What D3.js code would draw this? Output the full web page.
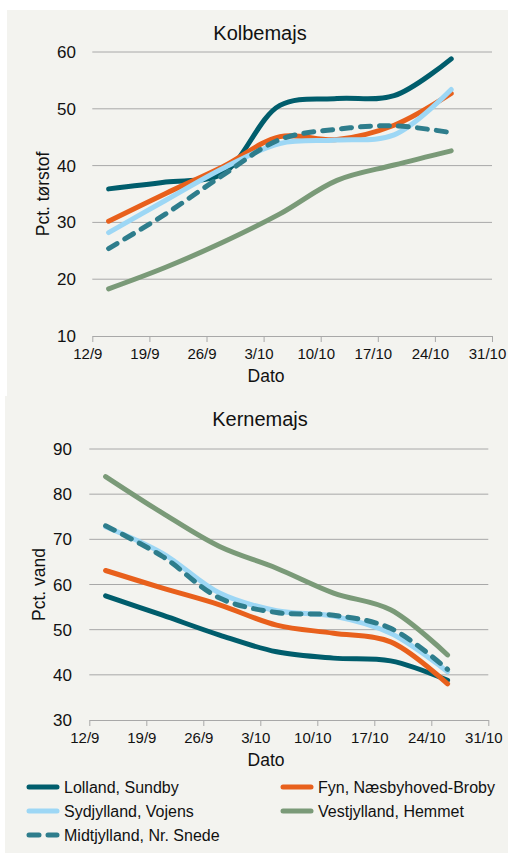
<!DOCTYPE html>
<html>
<head>
  <meta charset="UTF-8">
  <script src="https://d3js.org/d3.v7.min.js"></script>
  <style>
    body { margin: 0; padding: 0; background: #fff; }
    svg { display: block; font-family: "Liberation Sans", Arial, sans-serif; }
  </style>
</head>
<body>
<script>
  const dates = ["2013-09-14", "2013-09-21", "2013-09-28", "2013-10-05", "2013-10-12", "2013-10-19", "2013-10-26"];
  const tickDates = ["2013-09-12", "2013-09-19", "2013-09-26", "2013-10-03", "2013-10-10", "2013-10-17", "2013-10-24", "2013-10-31"];

  const seriesNames = ["Lolland, Sundby", "Fyn, Næsbyhoved-Broby", "Sydjylland, Vojens", "Vestjylland, Hemmet", "Midtjylland, Nr. Snede"];
  const seriesColors = ["#005d6c", "#e8601c", "#9dd7f5", "#7a9a78", "#2e7d8c"];
  const seriesDashed = [false, false, false, false, true];

  // Kolbemajs, pct. tørstof
  const kolbeLolland = [35.9, 37.1, 38.6, 50.6, 51.8, 52.3, 58.8];
  const kolbeFyn = [30.2, 35.1, 39.8, 45.1, 44.6, 47.1, 52.7];
  const kolbeSyd = [28.2, 33.9, 39.5, 43.9, 44.5, 45.4, 53.4];
  const kolbeVest = [18.3, 22.1, 26.5, 31.5, 37.4, 40.1, 42.6];
  const kolbeMidt = [25.4, 31.5, 38.3, 44.6, 46.4, 47.0, 45.8];

  // Kernemajs, pct. vand
  const kerneLolland = [57.5, 53.2, 48.8, 45.1, 43.7, 43.1, 38.8];
  const kerneFyn = [63.1, 59.2, 55.5, 51.0, 49.2, 47.3, 38.0];
  const kerneSyd = [72.8, 66.9, 58.1, 54.2, 53.0, 49.2, 40.7];
  const kerneVest = [83.9, 75.8, 68.4, 63.6, 58.1, 54.4, 44.4];
  const kerneMidt = [73.0, 66.2, 57.0, 53.8, 53.2, 50.3, 41.2];

  const kolbeTicks = [10, 20, 30, 40, 50, 60];
  const kerneTicks = [30, 40, 50, 60, 70, 80, 90];

  const parse = d3.timeParse("%Y-%m-%d");
  const fmt = d => d.getDate() + "/" + (d.getMonth() + 1);

  const W = 508, H = 856;
  const svg = d3.select("body").append("svg").attr("width", W).attr("height", H);

  svg.append("rect").attr("x", 7).attr("y", 10).attr("width", 501).attr("height", 386).attr("fill", "#f3f3ef");
  svg.append("rect").attr("x", 5).attr("y", 396).attr("width", 503).attr("height", 457).attr("fill", "#f3f3ef");

  function panel(opt) {
    const g = svg.append("g");
    const x = d3.scaleTime()
      .domain([parse(tickDates[0]), parse(tickDates[tickDates.length - 1])])
      .range([opt.x0, opt.x1]);
    const y = d3.scaleLinear().domain(opt.domain).range([opt.yBottom, opt.yTop]);

    g.append("text").attr("x", 260).attr("y", opt.titleY)
      .attr("text-anchor", "middle").attr("font-size", 20).attr("fill", "#111")
      .text(opt.title);

    // gridlines
    g.selectAll(".grid").data(opt.ticks.slice(1)).enter().append("line")
      .attr("x1", opt.x0).attr("x2", opt.x1)
      .attr("y1", d => y(d)).attr("y2", d => y(d))
      .attr("stroke", "#a8a8a8").attr("stroke-width", 1);

    // y axis labels
    g.selectAll(".yl").data(opt.ticks).enter().append("text")
      .attr("x", opt.yLabelX).attr("y", d => y(d) + 6)
      .attr("text-anchor", "end").attr("font-size", 17).attr("fill", "#111")
      .text(d => d);

    // x axis
    const xAxis = d3.axisBottom(x)
      .tickValues(tickDates.map(parse))
      .tickFormat(fmt)
      .tickSize(6).tickSizeOuter(0);
    const ax = g.append("g").attr("transform", `translate(0,${opt.yBottom})`).call(xAxis);
    ax.select(".domain").attr("stroke", "#a8a8a8");
    ax.selectAll(".tick line").attr("stroke", "#a8a8a8");
    ax.selectAll(".tick text").attr("font-size", 15).attr("fill", "#111")
      .attr("font-family", "Liberation Sans, Arial, sans-serif")
      .attr("x", -5).attr("y", 23).attr("dy", 0);

    g.append("text").attr("x", 266).attr("y", opt.yBottom + 46)
      .attr("text-anchor", "middle").attr("font-size", 17.5).attr("fill", "#111")
      .text("Dato");

    g.append("text")
      .attr("transform", `translate(${opt.yTitleX},${(opt.yTop + opt.yBottom) / 2}) rotate(-90)`)
      .attr("text-anchor", "middle").attr("font-size", 17.5).attr("fill", "#111")
      .text(opt.yTitle);

    const line = d3.line()
      .x((d, i) => x(parse(dates[i])))
      .y(d => y(d))
      .curve(d3.curveCatmullRom.alpha(0.5));

    const order = [3, 0, 1, 2, 4];
    order.forEach(i => {
      g.append("path").datum(opt.series[i])
        .attr("d", line).attr("fill", "none")
        .attr("stroke", seriesColors[i]).attr("stroke-width", 5)
        .attr("stroke-linecap", "round")
        .attr("stroke-dasharray", seriesDashed[i] ? "10,9" : null);
    });
  }

  panel({
    title: "Kolbemajs", titleY: 40,
    x0: 92.3, x1: 492, yTop: 52, yBottom: 336,
    domain: [10, 60], ticks: kolbeTicks, yLabelX: 76,
    yTitle: "Pct. tørstof", yTitleX: 49,
    series: [kolbeLolland, kolbeFyn, kolbeSyd, kolbeVest, kolbeMidt]
  });

  panel({
    title: "Kernemajs", titleY: 426,
    x0: 89.3, x1: 488.3, yTop: 449, yBottom: 720,
    domain: [30, 90], ticks: kerneTicks, yLabelX: 72,
    yTitle: "Pct. vand", yTitleX: 45,
    series: [kerneLolland, kerneFyn, kerneSyd, kerneVest, kerneMidt]
  });

  // legend
  const legendPos = [[27, 787], [281, 787], [27, 811], [281, 811], [27, 835]];
  const leg = svg.append("g");
  seriesNames.forEach((name, i) => {
    const [lx, ly] = legendPos[i];
    leg.append("line").attr("x1", lx + 2).attr("x2", lx + 30).attr("y1", ly).attr("y2", ly)
      .attr("stroke", seriesColors[i]).attr("stroke-width", 5).attr("stroke-linecap", "round")
      .attr("stroke-dasharray", seriesDashed[i] ? "10,9" : null);
    leg.append("text").attr("x", lx + 37).attr("y", ly + 6)
      .attr("font-size", 16).attr("fill", "#111").text(name);
  });
</script>
</body>
</html>
